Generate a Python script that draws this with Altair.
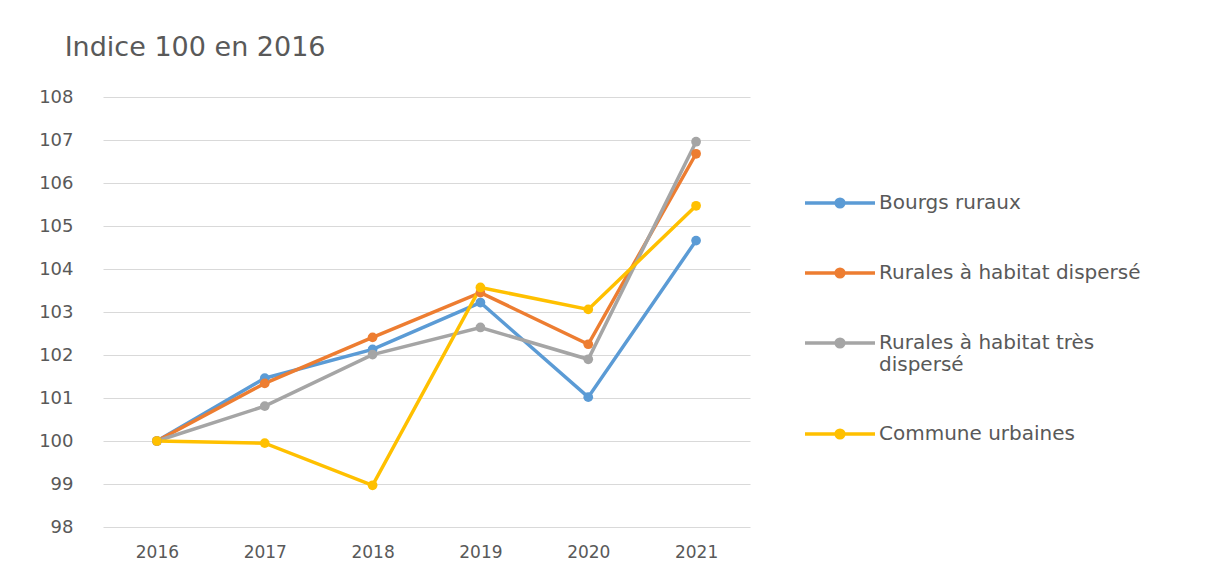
import altair as alt
import pandas as pd

years = ["2016", "2017", "2018", "2019", "2020", "2021"]
series_names = [
    "Bourgs ruraux",
    "Rurales à habitat dispersé",
    "Rurales à habitat très dispersé",
    "Commune urbaines",
]
bourgs = [100.0, 101.46, 102.13, 103.22, 101.02, 104.66]
disperse = [100.0, 101.34, 102.41, 103.45, 102.25, 106.68]
tres_disperse = [100.0, 100.81, 102.01, 102.64, 101.90, 106.96]
urbaines = [100.0, 99.95, 98.97, 103.57, 103.06, 105.47]
colors = ["#5B9BD5", "#ED7D31", "#A5A5A5", "#FFC000"]

rows = []
for name, vals in zip(series_names, [bourgs, disperse, tres_disperse, urbaines]):
    for y, v in zip(years, vals):
        rows.append({"Année": y, "Série": name, "Indice": v})
df = pd.DataFrame(rows)

FONT = "DejaVu Sans"
TXT = "#595959"

sym = "M-1,0L1,0M0.11,0A0.11,0.11,0,1,1,-0.11,0A0.11,0.11,0,1,1,0.11,0Z"

chart = (
    alt.Chart(df)
    .mark_line(point=alt.OverlayMarkDef(size=95, filled=True), strokeWidth=3.5)
    .encode(
        x=alt.X("Année:O", title=None,
                axis=alt.Axis(labelAngle=0, labelFontSize=17, labelColor=TXT, labelFont=FONT,
                              ticks=False, domain=False, labelPadding=17, grid=False)),
        y=alt.Y("Indice:Q", title=None,
                scale=alt.Scale(domain=[98, 108], nice=False, zero=False),
                axis=alt.Axis(values=list(range(98, 109)), labelFontSize=18, labelColor=TXT,
                              labelFont=FONT, ticks=False, domain=False, labelPadding=30,
                              gridColor="#D9D9D9", gridWidth=1.2)),
        color=alt.Color("Série:N", sort=series_names,
                        scale=alt.Scale(domain=series_names, range=colors),
                        legend=alt.Legend(
                            title=None, orient="none", legendX=700, legendY=69,
                            symbolType=sym, symbolSize=4900, symbolStrokeWidth=3.5,
                            labelFontSize=20, labelFont=FONT, labelColor=TXT,
                            labelLimit=400, rowPadding=22, labelOffset=2,
                            labelExpr="datum.label == 'Rurales à habitat très dispersé' ? ['Rurales à habitat très', 'dispersé'] : datum.label",
                        )),
    )
    .properties(
        width=647, height=430,
        title=alt.TitleParams("Indice 100 en 2016", anchor="start", dx=26, fontSize=27,
                              font=FONT, color=TXT, fontWeight="normal", offset=26),
        autosize=alt.AutoSizeParams(type="none"),
        padding={"left": 95, "top": 89, "right": 453, "bottom": 46},
    )
    .configure(background="white")
    .configure_view(strokeWidth=0, stroke="transparent")
)

chart.save("out.html", embed_options={"renderer": "svg", "actions": False})
